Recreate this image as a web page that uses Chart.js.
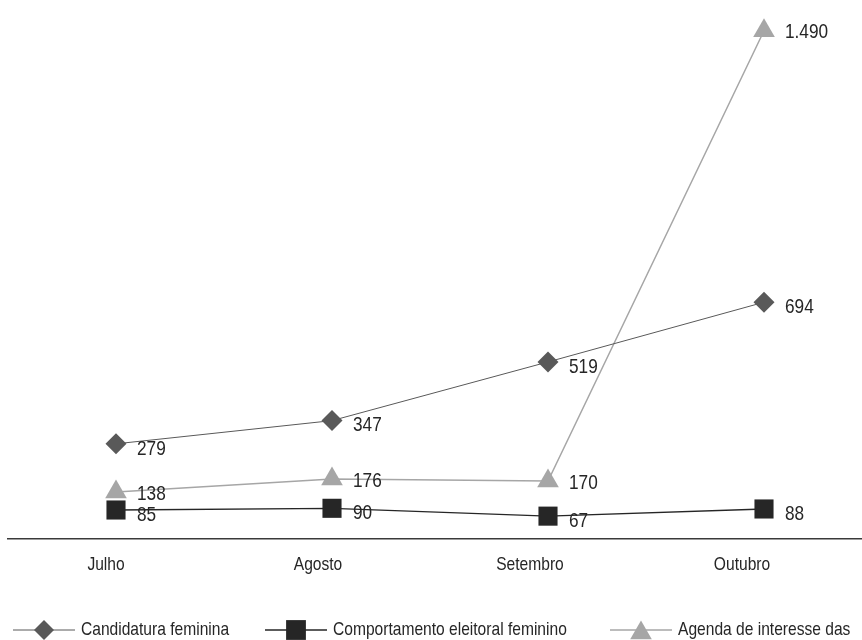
<!DOCTYPE html>
<html><head><meta charset="utf-8">
<script src="https://cdn.jsdelivr.net/npm/chart.js@4.4.1/dist/chart.umd.min.js"></script>
<style>
html,body{margin:0;padding:0;background:#fff;overflow:hidden;width:862px;height:640px;}
#wrap{position:relative;width:880px;height:640px;}
canvas{display:block;}
</style></head><body>
<div id="wrap"><canvas id="c" width="880" height="640"></canvas></div>
<script>
const categories = ['Julho', 'Agosto', 'Setembro', 'Outubro'];
const candidatura = [279, 347, 519, 694];
const comportamento = [85, 90, 67, 88];
const agenda = [138, 176, 170, 1490];
const seriesNames = ['Candidatura feminina', 'Comportamento eleitoral feminino', 'Agenda de interesse das mulheres'];

const FONT = '"Liberation Sans", Arial, sans-serif';
const FONT_SIZE = 19;
const LABEL_SIZE = 21;
const NARROW = 0.82;   // Arial Narrow look
const TEXT_COLOR = '#262626';
const LEGEND_X = [13, 265, 610];
Chart.defaults.font.family = FONT;
Chart.defaults.font.size = FONT_SIZE;
Chart.defaults.color = TEXT_COLOR;

function fmt(v) { return String(v).replace(/\B(?=(\d{3})+(?!\d))/g, '.'); }

function narrowText(ctx, text, x, y, align) {
  ctx.save();
  ctx.translate(x, y);
  ctx.scale(NARROW, 1);
  ctx.textAlign = align;
  ctx.fillText(text, 0, 0);
  ctx.restore();
}
function narrowWidth(ctx, text) { return ctx.measureText(text).width * NARROW; }

const narrowTicks = {
  id: 'narrowTicks',
  afterDraw(chart) {
    const ctx = chart.ctx, sx = chart.scales.x;
    ctx.save();
    ctx.font = FONT_SIZE + 'px ' + FONT;
    ctx.fillStyle = TEXT_COLOR;
    ctx.textBaseline = 'middle';
    sx.ticks.forEach((t, i) => {
      narrowText(ctx, sx.getLabelForValue(t.value), sx.getPixelForTick(i) - 10 - 4 * i, sx.top + 26, 'center');
    });
    ctx.restore();
  }
};

const valueLabels = {
  id: 'valueLabels',
  afterDatasetsDraw(chart) {
    const ctx = chart.ctx;
    ctx.save();
    ctx.font = LABEL_SIZE + 'px ' + FONT;
    ctx.fillStyle = TEXT_COLOR;
    ctx.textBaseline = 'middle';
    chart.data.datasets.forEach((ds, i) => {
      const meta = chart.getDatasetMeta(i);
      meta.data.forEach((el, j) => {
        narrowText(ctx, fmt(ds.data[j]), el.x + 21, el.y + ds.labelDy, 'left');
      });
    });
    ctx.restore();
  }
};

const customLegend = {
  id: 'customLegend',
  afterDraw(chart) {
    const ctx = chart.ctx;
    const y = chart.height - 10;
    const visibleRight = 862;
    ctx.save();
    ctx.font = FONT_SIZE + 'px ' + FONT;
    ctx.textBaseline = 'middle';
    chart.data.datasets.forEach((ds, i) => {
      const x = LEGEND_X[i];
      ctx.strokeStyle = ds.borderColor;
      ctx.lineWidth = ds.borderWidth;
      ctx.beginPath();
      ctx.moveTo(x, y); ctx.lineTo(x + 62, y);
      ctx.stroke();
      ctx.fillStyle = ds.pointBackgroundColor;
      Chart.helpers.drawPoint(ctx, {pointStyle: ds.pointStyle, radius: ds.legendRadius, borderWidth: 0, rotation: 0},
        x + 31, y + (ds.pointStyle === 'triangle' ? 3 : 0));
      ctx.fillStyle = TEXT_COLOR;
      const tx = x + 68;
      const maxW = visibleRight - tx - 4;
      const words = ds.label.split(' ');
      let line = '', lines = [];
      words.forEach(w => {
        const test = line ? line + ' ' + w : w;
        if (narrowWidth(ctx, test) > maxW && line) { lines.push(line); line = w; }
        else line = test;
      });
      lines.push(line);
      lines.forEach((l, k) => narrowText(ctx, l, tx, y + k * 22, 'left'));
    });
    ctx.restore();
  }
};

new Chart(document.getElementById('c'), {
  type: 'line',
  data: {
    labels: categories,
    datasets: [
      {label: seriesNames[0], data: candidatura, borderColor: '#595959', borderWidth: 1,
       pointStyle: 'rectRot', pointRadius: 10.5, pointBackgroundColor: '#595959', pointBorderWidth: 0,
       legendRadius: 10, labelDy: 5},
      {label: seriesNames[1], data: comportamento, borderColor: '#262626', borderWidth: 1.3,
       pointStyle: 'rect', pointRadius: 13.5, pointBackgroundColor: '#262626', pointBorderWidth: 0,
       legendRadius: 14, labelDy: 5},
      {label: seriesNames[2], data: agenda, borderColor: '#a6a6a6', borderWidth: 1.5,
       pointStyle: 'triangle', pointRadius: 12.5, pointBackgroundColor: '#a6a6a6', pointBorderWidth: 0,
       legendRadius: 12.5, labelDy: 2}
    ]
  },
  options: {
    responsive: false,
    animation: false,
    layout: {autoPadding: false, padding: {left: 8, right: 8, top: 0, bottom: 101}},
    plugins: {legend: {display: false}, tooltip: {enabled: false}, title: {display: false}},
    elements: {line: {tension: 0}},
    scales: {
      x: {offset: true, grid: {display: false, drawTicks: false},
          border: {display: true, color: '#3a3a3a', width: 1.5},
          ticks: {display: false}},
      y: {display: false, min: 0, max: 1580}
    }
  },
  plugins: [valueLabels, narrowTicks, customLegend]
});
</script>
</body></html>
